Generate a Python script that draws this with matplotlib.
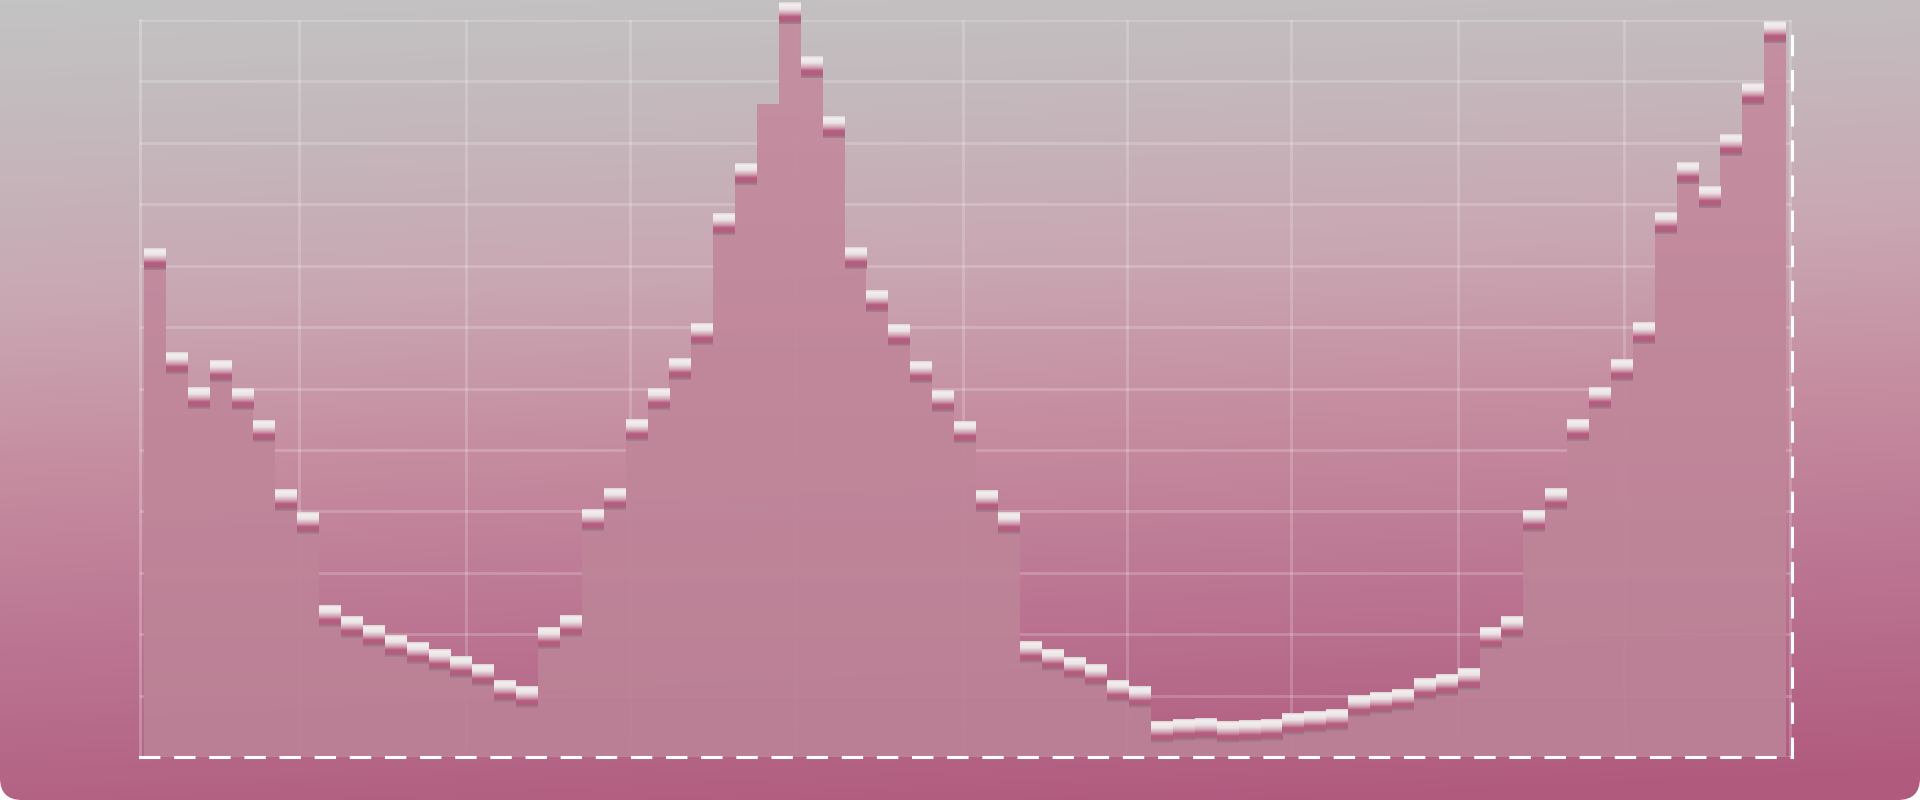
import numpy as np
import matplotlib
matplotlib.use("Agg")
import matplotlib.pyplot as plt
from matplotlib.colors import LinearSegmentedColormap
from matplotlib.patches import FancyBboxPatch

# one value per step
values = [
    8.10, 6.41, 5.84, 6.28, 5.82, 5.30, 4.18, 3.80, 2.30, 2.11,
    1.96, 1.80, 1.69, 1.58, 1.46, 1.33, 1.07, 0.98, 1.94, 2.13,
    3.85, 4.20, 5.33, 5.83, 6.31, 6.89, 8.68, 9.49, 10.64, 12.11,
    11.23, 10.25, 8.13, 7.42, 6.87, 6.27, 5.80, 5.29, 4.17, 3.80,
    1.70, 1.57, 1.45, 1.34, 1.08, 0.98, 0.41, 0.43, 0.45, 0.40,
    0.42, 0.44, 0.54, 0.57, 0.60, 0.83, 0.87, 0.93, 1.11, 1.17,
    1.27, 1.93, 2.12, 3.84, 4.20, 5.33, 5.84, 6.30, 6.90, 8.69,
    9.51, 9.11, 9.97, 10.79, 11.80,
]
# the step that is drawn without a marker
no_marker = [28]

x_grid = [7.1, 14.7, 22.2, 29.8, 37.4, 44.9, 52.4, 60.0, 67.6, 75.2]
y_grid = list(range(0, 13))


def main():
    W, H = 1920, 800
    fig = plt.figure(figsize=(W / 100, H / 100), dpi=100)
    fig.patch.set_facecolor('white')

    # background card with gradient and rounded bottom corners
    bg = fig.add_axes([0, 0, 1, 1], zorder=0)
    bg.set_axis_off()
    yy, xx = np.mgrid[0:1:200j, 0:1:480j]
    t = np.clip(yy * 0.92 + 0.1 * xx, 0, 1)
    bg_cmap = LinearSegmentedColormap.from_list('bg', [
        (0.0, '#c3c3c3'), (0.15, '#c4b9bd'), (0.35, '#c9a7b3'),
        (0.55, '#c58c9f'), (0.75, '#bb7592'), (1.0, '#b05a7e')])
    im = bg.imshow(t, cmap=bg_cmap, extent=[0, W, 0, H], aspect='auto',
                   interpolation='bilinear')
    card = FancyBboxPatch((0, 0), W, H + 60, boxstyle='round,pad=0,rounding_size=22',
                          facecolor='none', edgecolor='none')
    bg.add_patch(card)
    im.set_clip_path(card)
    bg.set_xlim(0, W)
    bg.set_ylim(0, H)

    ax = fig.add_axes([140 / W, 1 - 757 / H, (1792 - 140) / W, (757 - 20) / H], zorder=1)
    ax.patch.set_alpha(0)

    n = len(values)
    edges = np.arange(n + 1)

    # step area, filled with its own soft gradient
    area = ax.stairs(values, edges, baseline=0, fill=True,
                     facecolor='none', edgecolor='none')
    fill_cmap = LinearSegmentedColormap.from_list('fill', ['#c58ea0', '#bc8196'])
    grad = np.linspace(0, 1, 100).reshape(-1, 1)
    fill_img = ax.imshow(grad, cmap=fill_cmap, extent=[0, n, 0, 12.4],
                         aspect='auto', alpha=0.96, zorder=2, interpolation='bilinear')
    fill_img.set_clip_path(area)

    # glossy bar markers at each step
    marker_cmap = LinearSegmentedColormap.from_list('mk', [
        (0.0, '#ddd3d6'), (0.08, '#f3efef'), (0.3, '#ece4e6'), (0.5, '#d3a9b8'),
        (0.68, '#b65c7f'), (0.88, '#b0617f'), (1.0, '#a08490')])
    mgrad = np.linspace(0, 1, 40).reshape(-1, 1)
    half = 0.177
    for i, v in enumerate(values):
        if i in no_marker:
            continue
        ax.imshow(mgrad, cmap=marker_cmap, extent=[i, i + 1, v - half, v + half],
                  aspect='auto', zorder=4, clip_on=False, interpolation='bilinear')

    ax.set_xlim(-0.18, 75.27)
    ax.set_ylim(0, 12)
    ax.set_xticks(x_grid)
    ax.set_yticks(y_grid)
    ax.grid(True, color='white', alpha=0.2, linewidth=2)
    ax.set_axisbelow(True)
    ax.tick_params(length=0, labelbottom=False, labelleft=False)

    ax.spines['top'].set_visible(False)
    ax.spines['left'].set_color((1, 1, 1, 0.25))
    ax.spines['left'].set_linewidth(2)
    for side in ['bottom', 'right']:
        ax.spines[side].set_color('white')
        ax.spines[side].set_linewidth(2.2)
        ax.spines[side].set_linestyle((0, (6, 5.5)))
        ax.spines[side].set_zorder(5)

    fig.savefig('out.png', dpi=100, facecolor=fig.get_facecolor())


if __name__ == "__main__":
    main()
